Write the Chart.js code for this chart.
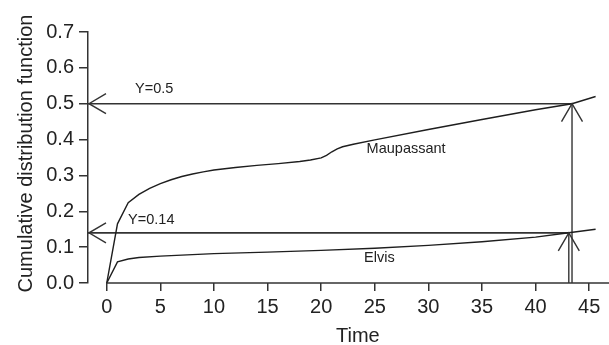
<!DOCTYPE html>
<html><head><meta charset="utf-8">
<script src="https://cdn.jsdelivr.net/npm/chart.js@4/dist/chart.umd.min.js"></script>
<style>html,body{margin:0;padding:0;background:#fff}canvas{display:block}</style>
</head><body>
<canvas id="c" width="609" height="345"></canvas>
<script>
// ---- data ----
const maupassantX = [0, 1, 2, 3, 4, 5, 6, 7, 8, 9, 10, 12, 14, 16, 18, 19, 20, 20.5, 21, 21.5, 22, 23, 25, 30, 35, 40, 43.4, 45.6];
const maupassantY = [0, 0.165, 0.224, 0.247, 0.264, 0.277, 0.288, 0.297, 0.304, 0.310, 0.315, 0.322, 0.328, 0.333, 0.339, 0.343, 0.349, 0.356, 0.366, 0.374, 0.380, 0.387, 0.399, 0.428, 0.456, 0.483, 0.500, 0.520];
const elvisX = [0, 1, 2, 3, 5, 8, 10, 15, 20, 25, 30, 35, 40, 43.1, 45.6];
const elvisY = [0, 0.059, 0.067, 0.071, 0.075, 0.079, 0.082, 0.086, 0.091, 0.097, 0.105, 0.115, 0.128, 0.140, 0.150];
const thresholds = [0.5, 0.14];
const crossingTimes = [43.4, 43.1];
const thresholdLabels = ['Y=0.5', 'Y=0.14'];
const seriesNames = ['Maupassant', 'Elvis'];
const xTicks = [0, 5, 10, 15, 20, 25, 30, 35, 40, 45];
const yTicks = [0, 0.1, 0.2, 0.3, 0.4, 0.5, 0.6, 0.7];
const xTitle = 'Time';
const yTitle = 'Cumulative distribution function';
const X_MIN = -1.75, X_MAX = 46.85, Y_MIN = 0, Y_MAX = 0.7;

const toPts = (xs, ys) => xs.map((v, i) => ({x: v, y: ys[i]}));
const INK = '#1e1e1e';
const FONT = '"Liberation Sans", Arial, Helvetica, sans-serif';

const datasets = [
  {data: toPts(maupassantX, maupassantY), borderColor: INK, borderWidth: 1.4, tension: 0},
  {data: toPts(elvisX, elvisY), borderColor: INK, borderWidth: 1.4, tension: 0}
];
thresholds.forEach((t, i) => {
  datasets.push({data: [{x: X_MIN, y: t}, {x: crossingTimes[i], y: t}], borderColor: '#333', borderWidth: i ? 1.8 : 1.4, tension: 0});
  datasets.push({data: [{x: crossingTimes[i], y: 0}, {x: crossingTimes[i], y: t}], borderColor: '#333', borderWidth: 1.4, tension: 0});
});
datasets.forEach(d => { d.pointRadius = 0; d.fill = false; });

const labelPos = [ // in data units: [x, y]
  [2.64, 0.541], [1.99, 0.177]
];
const seriesLabelPos = [[24.24, 0.375], [24.0, 0.0706]];

const decor = {
  id: 'decor',
  afterDatasetsDraw(chart) {
    const {ctx, chartArea, scales: {x, y}} = chart;
    ctx.save();
    ctx.strokeStyle = '#333';
    ctx.lineWidth = 1.5;
    const y0 = y.getPixelForValue(0);
    ctx.beginPath();
    ctx.moveTo(x.getPixelForValue(0), y0);
    ctx.lineTo(chartArea.right, y0);
    ctx.stroke();
    ctx.lineWidth = 1.4;
    thresholds.forEach((t, i) => {
      const py = y.getPixelForValue(t);
      const lx = chartArea.left + 1;
      ctx.beginPath();
      ctx.moveTo(lx + 17, py - 10); ctx.lineTo(lx, py); ctx.lineTo(lx + 17, py + 10);
      ctx.stroke();
      const px = x.getPixelForValue(crossingTimes[i]);
      ctx.beginPath();
      ctx.moveTo(px - 10.5, py + 18); ctx.lineTo(px, py); ctx.lineTo(px + 10.5, py + 18);
      ctx.stroke();
    });
    ctx.fillStyle = '#222';
    ctx.font = '14.5px ' + FONT;
    ctx.textAlign = 'left';
    ctx.textBaseline = 'middle';
    thresholdLabels.forEach((s, i) => ctx.fillText(s, x.getPixelForValue(labelPos[i][0]), y.getPixelForValue(labelPos[i][1])));
    seriesNames.forEach((s, i) => ctx.fillText(s, x.getPixelForValue(seriesLabelPos[i][0]), y.getPixelForValue(seriesLabelPos[i][1])));
    // axis titles
    ctx.font = '20px ' + FONT;
    ctx.textAlign = 'center';
    ctx.textBaseline = 'alphabetic';
    ctx.fillText(xTitle, (x.getPixelForValue(0) + chartArea.right) / 2, 342);
    ctx.translate(31.5, (y.top + y.bottom) / 2 - 4);
    ctx.rotate(-Math.PI / 2);
    ctx.fillText(yTitle, 0, 0);
    ctx.restore();
  }
};

new Chart(document.getElementById('c'), {
  type: 'line',
  data: {datasets},
  options: {
    responsive: false,
    devicePixelRatio: 1,
    animation: false,
    layout: {padding: {top: 32, right: 0, left: 0, bottom: 0}},
    plugins: {legend: {display: false}, tooltip: {enabled: false}},
    scales: {
      x: {
        type: 'linear', min: X_MIN, max: X_MAX,
        afterBuildTicks: s => { s.ticks = xTicks.map(v => ({value: v})); },
        afterFit: s => { s.height = 62; },
        grid: {display: true, drawOnChartArea: false, drawTicks: true, tickLength: 8, color: '#333', lineWidth: 1.5},
        border: {display: false},
        ticks: {padding: 4, color: '#222', font: {size: 20, family: FONT}, maxRotation: 0, autoSkip: false, callback: v => String(v)}
      },
      y: {
        type: 'linear', min: Y_MIN, max: Y_MAX,
        afterBuildTicks: s => { s.ticks = yTicks.map(v => ({value: v})); },
        afterFit: s => { s.width = 88; },
        grid: {display: true, drawOnChartArea: false, drawTicks: true, tickLength: 9, color: '#333', lineWidth: 1.5},
        border: {display: true, color: '#333', width: 1.5},
        ticks: {padding: 5, color: '#222', font: {size: 20, family: FONT}, autoSkip: false, callback: v => Number(v).toFixed(1)}
      }
    }
  },
  plugins: [decor]
});
</script>
</body></html>
